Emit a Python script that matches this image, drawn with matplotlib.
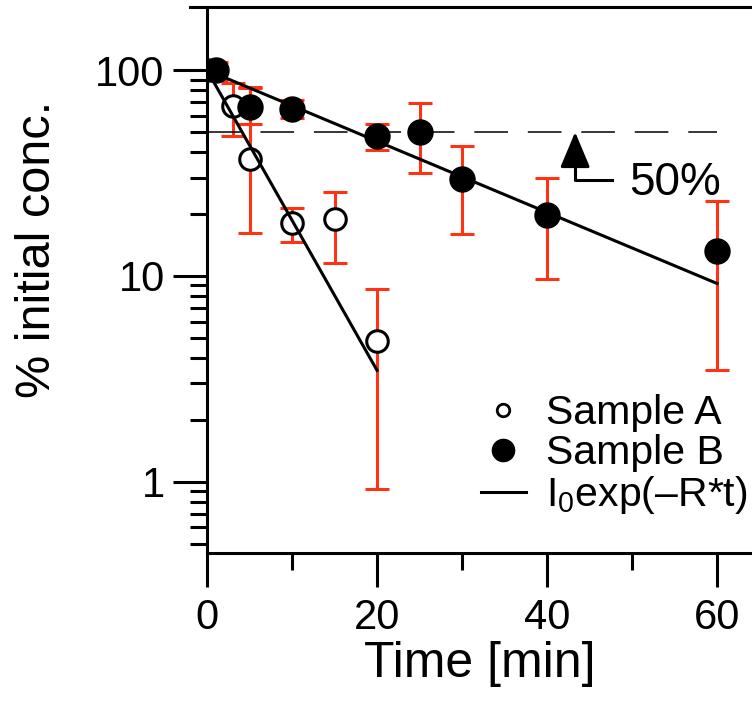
import numpy as np
import matplotlib
matplotlib.use("Agg")
import matplotlib.pyplot as plt
from matplotlib.ticker import LogLocator, NullFormatter, FixedLocator
from matplotlib.lines import Line2D

plt.rcParams['font.family'] = ['Liberation Sans', 'DejaVu Sans']
plt.rcParams['mathtext.fontset'] = 'custom'
plt.rcParams['mathtext.rm'] = 'Liberation Sans'
plt.rcParams['mathtext.it'] = 'Liberation Sans'

# sample A (open circles)
tA = [0, 3, 5, 10, 15, 20]
yA = [100, 67, 37, 18, 19, 4.8]
A_hi = [110, 87, 82, 21.4, 25.6, 8.6]
A_lo = [90, 48, 16.2, 14.6, 11.6, 0.92]

# sample B (filled circles)
tB = [1, 5, 10, 20, 25, 30, 40, 60]
yB = [100, 66, 65, 48, 50, 29.6, 19.8, 13.2]
B_hi = [110, 83, 71.5, 54.7, 69, 43, 30, 23]
B_lo = [90, 55, 58.5, 41, 31.6, 16, 9.7, 3.5]

# fits I0*exp(-R*t)
I0 = 100
R_A = 0.168
R_B = 0.0398
fitA_end = 20
fitB_end = 60

red = '#ff3214'
W, H = 752, 708

fig = plt.figure(figsize=(W / 100, H / 100), dpi=100)
ax = fig.add_axes([207 / W, (H - 553) / H, (W - 207) / W, (553 - 10) / H])

errA = [np.array(yA) - np.array(A_lo), np.array(A_hi) - np.array(yA)]
errB = [np.array(yB) - np.array(B_lo), np.array(B_hi) - np.array(yB)]
ax.errorbar(tA, yA, yerr=errA, fmt='none', ecolor=red, elinewidth=2.2,
            capsize=8.5, capthick=2.2, zorder=1)
ax.errorbar(tB, yB, yerr=errB, fmt='none', ecolor=red, elinewidth=2.2,
            capsize=8.5, capthick=2.2, zorder=1)

# 50% line
ax.plot([0, 60], [50, 50], color='k', lw=1.1, ls=(0, (22, 13)), zorder=1.5)

ax.plot(tA, yA, 'o', ms=15.5, mfc='white', mec='k', mew=2.2, ls='none', zorder=2)
ax.plot(tB, yB, 'o', ms=18, mfc='k', mec='k', ls='none', zorder=2)

ta = np.linspace(0, fitA_end, 50)
tb = np.linspace(0, fitB_end, 50)
ax.plot(ta, I0 * np.exp(-R_A * ta), 'k-', lw=2.2, zorder=3)
ax.plot(tb, I0 * np.exp(-R_B * tb), 'k-', lw=2.2, zorder=3)

# arrow to 50% line
ax.plot([47.6, 43.3, 43.3], [29.2, 29.2, 44], 'k-', lw=2.2, zorder=3)
ax.annotate('', xy=(43.3, 50), xytext=(43.3, 38),
            arrowprops=dict(arrowstyle='-|>,head_length=1.0,head_width=0.42',
                            mutation_scale=22, color='k', lw=2.2,
                            shrinkA=0, shrinkB=0))
ax.text(49.6, 28.4, '50%', fontsize=33, va='center', ha='left')

ax.set_yscale('log')
ax.set_xlim(0, 64.1)
ax.set_ylim(0.45, 196)
ax.xaxis.set_major_locator(FixedLocator([0, 20, 40, 60]))
ax.xaxis.set_minor_locator(FixedLocator([10, 30, 50]))
ax.yaxis.set_major_locator(FixedLocator([1, 10, 100]))
ax.set_yticklabels(['1', '10', '100'])
ax.yaxis.set_minor_locator(LogLocator(subs=np.arange(2, 10)))
ax.yaxis.set_minor_formatter(NullFormatter())

ax.tick_params(which='major', direction='out', length=24.5, width=2.2,
               labelsize=30, pad=6)
ax.tick_params(which='minor', direction='out', length=12, width=2.2)
ax.tick_params(axis='x', which='major', pad=8)

for s in ['top', 'right']:
    ax.spines[s].set_visible(False)
for s in ['left', 'bottom']:
    ax.spines[s].set_linewidth(2.2)

fig.add_artist(Line2D([190 / W, 1], [1 - 7 / H, 1 - 7 / H], color='k', lw=2.2))

ax.set_xlabel('Time [min]', fontsize=36, labelpad=2)
ax.set_ylabel('% initial conc.', fontsize=35)
ax.yaxis.set_label_coords(-0.27, 0.56)

handles = [
    Line2D([], [], marker='o', ls='none', ms=9, mfc='white', mec='k', mew=2),
    Line2D([], [], marker='o', ls='none', ms=16, mfc='k', mec='k'),
    Line2D([], [], color='k', lw=2.2),
]
labels = ['Sample A', 'Sample B', r'I$_\mathrm{0}$exp(–R*t)']
ax.legend(handles, labels, loc='lower right', bbox_to_anchor=(1.045, 0.015),
          frameon=False, fontsize=29.5, handlelength=1.1, handletextpad=0.5,
          labelspacing=0.05, borderaxespad=0.3)

fig.savefig('out.png', dpi=100)
